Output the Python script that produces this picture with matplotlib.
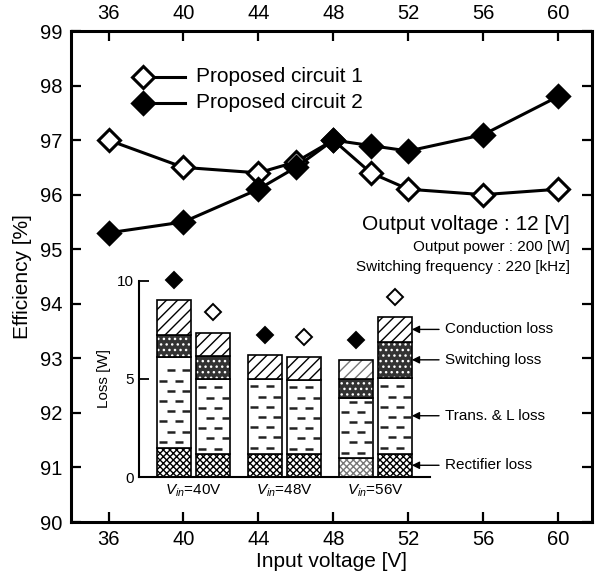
import numpy as np
import matplotlib
matplotlib.use('Agg')
import matplotlib.pyplot as plt

plt.rcParams['font.family'] = ['Liberation Sans', 'DejaVu Sans']
plt.rcParams['mathtext.fontset'] = 'custom'
plt.rcParams['mathtext.rm'] = 'Liberation Sans'
plt.rcParams['mathtext.it'] = 'Liberation Sans:italic'
plt.rcParams['hatch.linewidth'] = 1.0

# efficiency vs input voltage
vin = [36, 40, 44, 46, 48, 50, 52, 56, 60]
eff_c1 = [97.0, 96.5, 96.4, 96.6, 97.0, 96.4, 96.1, 96.0, 96.1]
eff_c2 = [95.3, 95.5, 96.1, 96.5, 97.0, 96.9, 96.8, 97.1, 97.8]

# loss breakdown at three input voltages [W]
loss_vin = ['40', '48', '56']
loss_names = ['Rectifier loss', 'Trans. & L loss', 'Switching loss', 'Conduction loss']
rect_c2 = [1.5, 1.2, 0.95]
trans_c2 = [4.6, 3.8, 3.1]
sw_c2 = [1.15, 0.0, 0.95]
cond_c2 = [1.75, 1.2, 0.95]
rect_c1 = [1.15, 1.15, 1.2]
trans_c1 = [3.85, 3.8, 3.85]
sw_c1 = [1.15, 0.0, 1.85]
cond_c1 = [1.2, 1.15, 1.25]

fig = plt.figure(figsize=(6.05, 5.72), dpi=100)
ax = fig.add_axes([0.1174, 0.0874, 0.861, 0.8584])

ax.plot(vin, eff_c1, '-D', color='k', lw=2.2, ms=11, mew=2.2, mfc='white', mec='k')
ax.plot(vin, eff_c2, '-D', color='k', lw=2.2, ms=11, mew=2.2, mfc='k', mec='k')

ax.set_xlim(34, 61.8)
ax.set_ylim(90, 99)
ax.set_xticks(range(36, 61, 4))
ax.set_yticks(range(90, 100))
ax.tick_params(direction='in', length=7, width=1.6, labelsize=14.5, pad=6,
               top=True, right=True, labeltop=True)
for s in ax.spines.values():
    s.set_linewidth(2.2)
ax.set_xlabel('Input voltage [V]', fontsize=15, labelpad=2)
ax.set_ylabel('Efficiency [%]', fontsize=15, labelpad=6)

# legend, marker at the left end of the line
for yy, fc, lab in [(0.907, 'white', 'Proposed circuit 1'), (0.854, 'k', 'Proposed circuit 2')]:
    ax.plot([0.138, 0.219], [yy, yy], color='k', lw=2.2, transform=ax.transAxes)
    ax.plot([0.138], [yy], 'D', ms=11, mew=2.2, mfc=fc, mec='k', transform=ax.transAxes)
    ax.text(0.24, yy, lab, fontsize=15, va='center', ha='left', transform=ax.transAxes)

ax.text(0.958, 0.605, 'Output voltage : 12 [V]', fontsize=15, ha='right', va='center',
        transform=ax.transAxes)
ax.text(0.958, 0.560, 'Output power : 200 [W]', fontsize=11, ha='right', va='center',
        transform=ax.transAxes)
ax.text(0.958, 0.519, 'Switching frequency : 220 [kHz]', fontsize=11, ha='right', va='center',
        transform=ax.transAxes)

# inset with loss breakdown
axi = fig.add_axes([0.2298, 0.166, 0.481, 0.343])
axi.patch.set_alpha(0)
axi.set_xlim(-0.6, 2.6)
axi.set_ylim(0, 10)
axi.spines['top'].set_visible(False)
axi.spines['right'].set_visible(False)
for s in ['left', 'bottom']:
    axi.spines[s].set_linewidth(1.5)
axi.set_yticks([0, 5, 10])
axi.tick_params(axis='y', direction='in', length=7, width=1.3, labelsize=11, pad=4)
axi.set_xticks(range(len(loss_vin)))
axi.set_xticklabels([r'$V_{in}$=' + v + 'V' for v in loss_vin], fontsize=11)
axi.tick_params(axis='x', length=0, pad=4)
axi.set_ylabel('Loss [W]', fontsize=11, labelpad=4)

w = 0.37
x0 = np.arange(len(loss_vin))
styles = [('white', 'k', 'xxxxx'), ('white', 'k', ''), ('#333333', 'white', '...'), ('white', 'k', '///')]

def draw_bar(xc, parts, mfc, gray=False):
    bottom = 0.0
    for i, h in enumerate(parts):
        if h <= 0:
            continue
        fc, hc, hatch = styles[i]
        if gray and hc == 'k':
            hc = '#777777'
        axi.bar(xc, h, w, bottom=bottom, color=fc, edgecolor=hc, hatch=hatch, lw=0)
        axi.bar(xc, h, w, bottom=bottom, fill=False, edgecolor='k', lw=1.2)
        if i == 1:
            # dashed pattern of the transformer / inductor loss
            ys = np.arange(bottom + 0.3, bottom + h - 0.15, 0.52)
            for k, yy in enumerate(ys):
                offs = [-0.33, 0.15] if k % 2 == 0 else [-0.1, 0.37]
                axi.plot([xc + o * w for o in offs], [yy, yy], '_', color='#222222',
                         ms=6, mew=1.8)
        bottom += h
    axi.plot([xc], [bottom + 1.05], 'D', ms=8, mew=1.4, mfc=mfc, mec='k', clip_on=False)
    return bottom

for j in range(len(loss_vin)):
    draw_bar(x0[j] - 0.215, [rect_c2[j], trans_c2[j], sw_c2[j], cond_c2[j]], 'k', gray=(j == 2))
    draw_bar(x0[j] + 0.215, [rect_c1[j], trans_c1[j], sw_c1[j], cond_c1[j]], 'white')

# labels pointing at the last bar
last = [rect_c1[-1], trans_c1[-1], sw_c1[-1], cond_c1[-1]]
edges = np.concatenate([[0], np.cumsum(last)])
xr = x0[-1] + 0.215 + w / 2
for i, name in enumerate(loss_names):
    mid = (edges[i] + edges[i + 1]) / 2
    axi.annotate(name, xy=(xr, mid), xytext=(xr + 0.36, mid), fontsize=11,
                 va='center', ha='left', annotation_clip=False,
                 arrowprops=dict(arrowstyle='-|>', color='k', lw=1, mutation_scale=11,
                                 shrinkA=2, shrinkB=0))

fig.savefig('out.png', dpi=100)
